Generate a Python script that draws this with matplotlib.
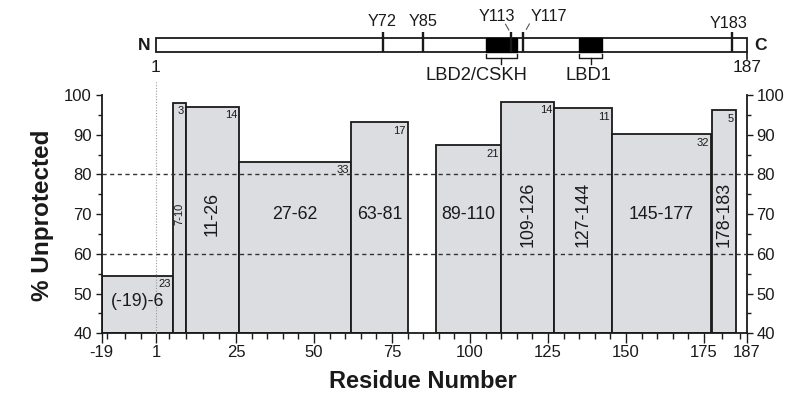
import numpy as np
import matplotlib
matplotlib.use("Agg")
import matplotlib.pyplot as plt
from matplotlib.patches import Rectangle
from matplotlib.ticker import FixedLocator, MultipleLocator, NullFormatter

plt.rcParams['font.family'] = ['Liberation Sans', 'DejaVu Sans']
TXT = '#1a1a1a'

# ---------------- data ----------------
range_labels = ["(-19)-6", "7-10", "11-26", "27-62", "63-81", "89-110",
                "109-126", "127-144", "145-177", "178-183"]
seg_start = [-19, 6, 10, 26, 62, 89, 110, 127, 145.4, 177.3]
seg_end = [6, 10, 26, 62, 80, 110, 127, 145.4, 177, 184]
pct_unprotected = [54.5, 98.1, 97.1, 83.2, 93.1, 87.3, 98.3, 96.7, 90.1, 96.2]
peptide_counts = [23, 3, 14, 33, 17, 21, 14, 11, 32, 5]
vertical_label = [False, True, True, False, False, False, True, True, False, True]

x_tick_values = [-19, 1, 25, 50, 75, 100, 125, 150, 175, 187]
x_tick_labels = ["-19", "1", "25", "50", "75", "100", "125", "150", "175", "187"]
x_minor_ticks = [-17, -10.5, -4.5, 5, 10, 15, 20] + \
    [v for v in range(30, 186, 5) if v % 25 != 0]

protein_length = 187
tyr_sites = [72, 85, 113, 117, 183]
tyr_labels = ["Y72", "Y85", "Y113", "Y117", "Y183"]
domain_names = ["LBD2/CSKH", "LBD1"]
domain_start = [105, 135]
domain_end = [115, 142.4]

# ---------------- piecewise residue axis ----------------
knot_res = np.array([-19, 1, 25, 175, 187], float)
knot_pos = np.array([0, 54.3, 134.3, 602.3, 645], float)


def _pw(x, xs, ys):
    x = np.asarray(x, float)
    y = np.interp(x, xs, ys)
    s0 = (ys[1] - ys[0]) / (xs[1] - xs[0])
    s1 = (ys[-1] - ys[-2]) / (xs[-1] - xs[-2])
    y = np.where(x < xs[0], ys[0] + (x - xs[0]) * s0, y)
    y = np.where(x > xs[-1], ys[-1] + (x - xs[-1]) * s1, y)
    return y


def fwd(x):
    return _pw(x, knot_res, knot_pos)


def inv(p):
    return _pw(p, knot_pos, knot_res)


fig = plt.figure(figsize=(8, 3.99), dpi=100)
ax = fig.add_axes([0.1271, 0.1647, 0.8063, 0.5972])
ax.set_xscale('function', functions=(fwd, inv))
ax.set_xlim(-19, 187)
ax.set_ylim(40, 100)

# bars
starts = np.array(seg_start, float)
ends = np.array(seg_end, float)
vals = np.array(pct_unprotected, float)
ax.bar(starts, vals - 40, width=ends - starts, bottom=40, align='edge',
       color='#dcdde0', edgecolor=TXT, linewidth=1.3, zorder=2)

# reference lines
for yv in (60, 80):
    ax.axhline(yv, color='#333333', lw=1.0, ls=(0, (3, 2.5)), zorder=3)
ax.plot([1, 1], [40, 103.3], color='#9a9a9a', lw=0.8, ls=(0, (1, 1.5)),
        clip_on=False, zorder=3)

# labels on bars
for s, e, h, lab, n, vert in zip(starts, ends, vals, range_labels,
                                  peptide_counts, vertical_label):
    ax.annotate(str(n), xy=(e, h), xytext=(-1.5, -2.5), textcoords='offset points',
                ha='right', va='top', fontsize=8, color=TXT, zorder=4)
    xc = float(inv((fwd(s) + fwd(e)) / 2))
    yc = 70 if h > 75 else (40 + h) / 2 + 0.8
    small = (e - s) < 6
    ax.text(xc, yc, lab, rotation=90 if vert else 0, ha='center', va='center',
            fontsize=8 if small else 12.8, color=TXT, zorder=4)

# axes styling
for side in ('left', 'right', 'bottom'):
    ax.spines[side].set_linewidth(1.3)
    ax.spines[side].set_color(TXT)
ax.spines['top'].set_visible(False)

ax.xaxis.set_major_locator(FixedLocator(x_tick_values))
ax.xaxis.set_minor_locator(FixedLocator(x_minor_ticks))
ax.set_xticklabels(x_tick_labels)
ax.xaxis.set_minor_formatter(NullFormatter())
ax.yaxis.set_major_locator(MultipleLocator(10))
ax.yaxis.set_minor_locator(MultipleLocator(5))

ax.tick_params(axis='x', which='major', direction='out', length=7.2, width=1.0,
               labelsize=12, pad=1.5, colors=TXT)
ax.tick_params(axis='x', which='minor', direction='out', length=4.0, width=1.0,
               colors=TXT)
ax.tick_params(axis='y', which='both', direction='out', left=True, right=True,
               labelleft=True, labelright=True, colors=TXT)
ax.tick_params(axis='y', which='major', length=4.5, width=1.0, labelsize=12, pad=2.5)
ax.tick_params(axis='y', which='minor', length=3.0, width=1.0)

ax.set_ylabel('% Unprotected', fontsize=17.5, fontweight='bold', color=TXT)
ax.yaxis.label.set_va('center')
ax.yaxis.set_label_coords(-0.091, 0.496)
ax.set_xlabel('Residue Number', fontsize=17, fontweight='bold', color=TXT)
ax.xaxis.set_label_coords(0.498, -0.203)
ax.xaxis.label.set_va('center')

# ---------------- protein diagram ----------------
ax2 = fig.add_axes([0.1271, 1 - 88 / 399, 0.8063, 88 / 399], sharex=ax)
ax2.set_ylim(88, 0)
ax2.axis('off')

ax2.add_patch(Rectangle((1, 38.3), protein_length - 1, 14, facecolor='white',
                        edgecolor=TXT, lw=1.3, clip_on=False))
for ds, de in zip(domain_start, domain_end):
    ax2.add_patch(Rectangle((ds, 38.3), de - ds, 14, facecolor='black',
                            edgecolor='black', lw=1.0, clip_on=False))
    xm = float(inv((fwd(ds) + fwd(de)) / 2))
    ax2.plot([ds, ds, de, de], [54.3, 58.3, 58.3, 54.3], color=TXT, lw=1.0,
             clip_on=False)
    ax2.plot([xm, xm], [58.3, 64.3], color=TXT, lw=1.0, clip_on=False)

label_dx = [0, 0, -14, 25.5, -3.5]
label_y = [22, 22, 16.5, 16.5, 23.5]
ax2.vlines(tyr_sites, 32, 52.3, color=TXT, lw=1.7, clip_on=False)
for site, lab, dx, ly in zip(tyr_sites, tyr_labels, label_dx, label_y):
    ax2.annotate(lab, xy=(site, ly), xytext=(dx, 0), textcoords='offset pixels',
                 ha='center', va='center', fontsize=11.7, color=TXT,
                 annotation_clip=False)

# small connectors for Y113 and Y117
for site, (dx0, y0, dx1, y1) in zip([113, 117], [(-5, 24.3, -1.7, 30.0),
                                                  (3.3, 29.3, 6.3, 24.0)]):
    x0 = float(inv(fwd(site) + dx0))
    x1 = float(inv(fwd(site) + dx1))
    ax2.plot([x0, x1], [y0, y1], color='#555555', lw=0.8, clip_on=False)

# domain labels
dom_dx = [-25, -2.5]
for name, ds, de, dx in zip(domain_names, domain_start, domain_end, dom_dx):
    xm = float(inv((fwd(ds) + fwd(de)) / 2))
    ax2.annotate(name, xy=(xm, 75.5), xytext=(dx, 0), textcoords='offset pixels',
                 ha='center', va='center', fontsize=13.2, color=TXT,
                 annotation_clip=False)

ax2.plot([protein_length, protein_length], [52.3, 58.5], color=TXT, lw=1.2,
         clip_on=False)
ax2.annotate('N', xy=(1, 46), xytext=(-6, 0), textcoords='offset pixels',
             ha='right', va='center', fontsize=12.5, fontweight='bold', color=TXT,
             annotation_clip=False)
ax2.annotate('C', xy=(protein_length, 46), xytext=(8, 0), textcoords='offset pixels',
             ha='left', va='center', fontsize=12.5, fontweight='bold', color=TXT,
             annotation_clip=False)
ax2.text(1, 67, '1', ha='center', va='center', fontsize=12.5, color=TXT)
ax2.text(protein_length, 67.5, str(protein_length), ha='center', va='center',
         fontsize=12.5, color=TXT)

fig.savefig('out.png', dpi=100)
